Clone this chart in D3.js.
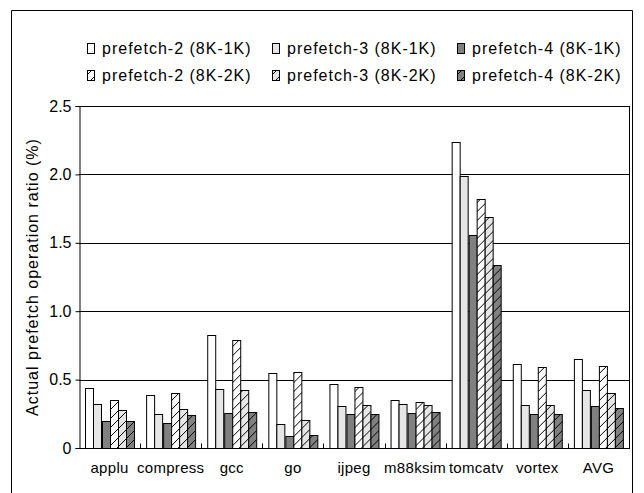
<!DOCTYPE html>
<html>
<head>
<meta charset="utf-8">
<script src="https://cdn.jsdelivr.net/npm/d3@7"></script>
<style>
  body { margin: 0; background: #fff; }
  text { font-family: "Liberation Sans", Arial, sans-serif; fill: #000; }
</style>
</head>
<body>
<script>
const categories = ["applu", "compress", "gcc", "go", "ijpeg", "m88ksim", "tomcatv", "vortex", "AVG"];
const seriesNames = [
	"prefetch-2 (8K-1K)", "prefetch-3 (8K-1K)", "prefetch-4 (8K-1K)",
	"prefetch-2 (8K-2K)", "prefetch-3 (8K-2K)", "prefetch-4 (8K-2K)"
];
const p2_1K = [0.44, 0.385, 0.827, 0.546, 0.471, 0.349, 2.24, 0.615, 0.649];
const p3_1K = [0.324, 0.251, 0.432, 0.176, 0.305, 0.32, 1.99, 0.315, 0.424];
const p4_1K = [0.2, 0.183, 0.256, 0.09, 0.251, 0.259, 1.554, 0.251, 0.307];
const p2_2K = [0.351, 0.402, 0.793, 0.559, 0.446, 0.337, 1.82, 0.593, 0.6];
const p3_2K = [0.28, 0.288, 0.422, 0.205, 0.312, 0.312, 1.69, 0.312, 0.405];
const p4_2K = [0.2, 0.244, 0.266, 0.098, 0.251, 0.261, 1.34, 0.251, 0.295];
const yTicks = [0, 0.5, 1.0, 1.5, 2.0, 2.5];

const values = [p2_1K, p3_1K, p4_1K, p2_2K, p3_2K, p4_2K];
const fills = ["#fff", "#e6e6e6", "#808080", "url(#h0)", "url(#h1)", "url(#h2)"];

const width = 644, height = 493;
const margin = { left: 79, right: 15, top: 106, bottom: 45 };

const svg = d3.select("body").append("svg")
	.attr("width", width)
	.attr("height", height);

// hatch patterns for the 8K-2K series
const defs = svg.append("defs");
["#fff", "#e6e6e6", "#808080"].forEach((c, i) => {
	const p = defs.append("pattern")
		.attr("id", "h" + i)
		.attr("patternUnits", "userSpaceOnUse")
		.attr("width", 9).attr("height", 9);
	p.append("rect").attr("width", 9).attr("height", 9).attr("fill", c);
	p.append("path")
		.attr("d", "M-2,2L2,-2M0,9L9,0M7,11L11,7")
		.attr("stroke", "#000").attr("stroke-width", 1);
});

// outer frame (no bottom edge in the original)
svg.append("path")
	.attr("d", "M11.5,493V10.5H632.5V493")
	.attr("fill", "none").attr("stroke", "#000");

const x0 = d3.scaleBand()
	.domain(categories)
	.range([margin.left, width - margin.right]);
const bw = x0.bandwidth();
const x1 = d3.scaleBand()
	.domain(d3.range(seriesNames.length))
	.range([bw * 0.105, bw * 0.895]);
const y = d3.scaleLinear()
	.domain([0, 2.5])
	.range([height - margin.bottom, margin.top]);

// gridlines
svg.append("g")
	.selectAll("line")
	.data(yTicks.slice(1))
	.enter().append("line")
	.attr("x1", margin.left).attr("x2", width - margin.right)
	.attr("y1", d => Math.round(y(d)) + 0.5).attr("y2", d => Math.round(y(d)) + 0.5)
	.attr("stroke", "#000");

// right edge of the plot
svg.append("line")
	.attr("x1", width - margin.right + 0.5).attr("x2", width - margin.right + 0.5)
	.attr("y1", y(2.5)).attr("y2", y(0))
	.attr("stroke", "#000");

// bars
const groups = svg.append("g")
	.selectAll("g")
	.data(categories)
	.enter().append("g")
	.attr("transform", d => `translate(${x0(d)},0)`);

groups.selectAll("rect")
	.data((d, i) => values.map((v, s) => ({ s: s, v: v[i] })))
	.enter().append("rect")
	.attr("x", d => Math.round(x1(d.s)) + 0.5)
	.attr("width", Math.round(x1.bandwidth()))
	.attr("y", d => Math.round(y(d.v)) + 0.5)
	.attr("height", d => Math.round(y(0)) - Math.round(y(d.v)))
	.attr("fill", d => fills[d.s])
	.attr("stroke", "#000")
	.attr("stroke-width", 1);

// y axis
const yAxis = svg.append("g")
	.attr("transform", `translate(${margin.left + 0.5},0)`)
	.call(d3.axisLeft(y)
		.tickValues(yTicks)
		.tickSize(4)
		.tickPadding(4)
		.tickFormat(d => d === 0 ? "0" : d3.format(".1f")(d)));
yAxis.select(".domain").attr("stroke", "#000");
yAxis.selectAll("text").style("font-size", "16px").style("font-family", '"Liberation Sans", Arial, sans-serif');

// x axis with category boundary ticks pointing up
const xAxis = svg.append("g")
	.attr("transform", `translate(0,${Math.round(y(0)) + 0.5})`);
xAxis.append("line")
	.attr("x1", margin.left).attr("x2", width - margin.right + 1)
	.attr("stroke", "#000");
xAxis.selectAll(".bt")
	.data(categories.slice(1))
	.enter().append("line")
	.attr("class", "bt")
	.attr("x1", d => Math.round(x0(d)) + 0.5).attr("x2", d => Math.round(x0(d)) + 0.5)
	.attr("y1", 0).attr("y2", -5)
	.attr("stroke", "#000");
xAxis.selectAll("text")
	.data(categories)
	.enter().append("text")
	.attr("x", d => x0(d) + bw / 2)
	.attr("y", 24)
	.attr("text-anchor", "middle")
	.style("font-size", "15px")
	.style("letter-spacing", "0.3px")
	.text(d => d);

// y label
svg.append("text")
	.attr("transform", `translate(38,${(y(0) + y(2.5)) / 2}) rotate(-90)`)
	.attr("text-anchor", "middle")
	.style("font-size", "16px")
	.style("letter-spacing", "1px")
	.text("Actual prefetch operation ratio (%)");

// legend
const legendX = [87, 272, 457];
const legendY = [48, 75];
const legend = svg.append("g")
	.selectAll("g")
	.data(seriesNames)
	.enter().append("g")
	.attr("transform", (d, i) => `translate(${legendX[i % 3]},${legendY[Math.floor(i / 3)]})`);
legend.append("rect")
	.attr("x", 0.5).attr("y", -4.5)
	.attr("width", 7).attr("height", 10)
	.attr("fill", (d, i) => fills[i])
	.attr("stroke", "#000");
legend.append("text")
	.attr("x", 15)
	.attr("y", 6)
	.style("font-size", "16px")
	.style("letter-spacing", "1px")
	.text(d => d);
</script>
</body>
</html>
